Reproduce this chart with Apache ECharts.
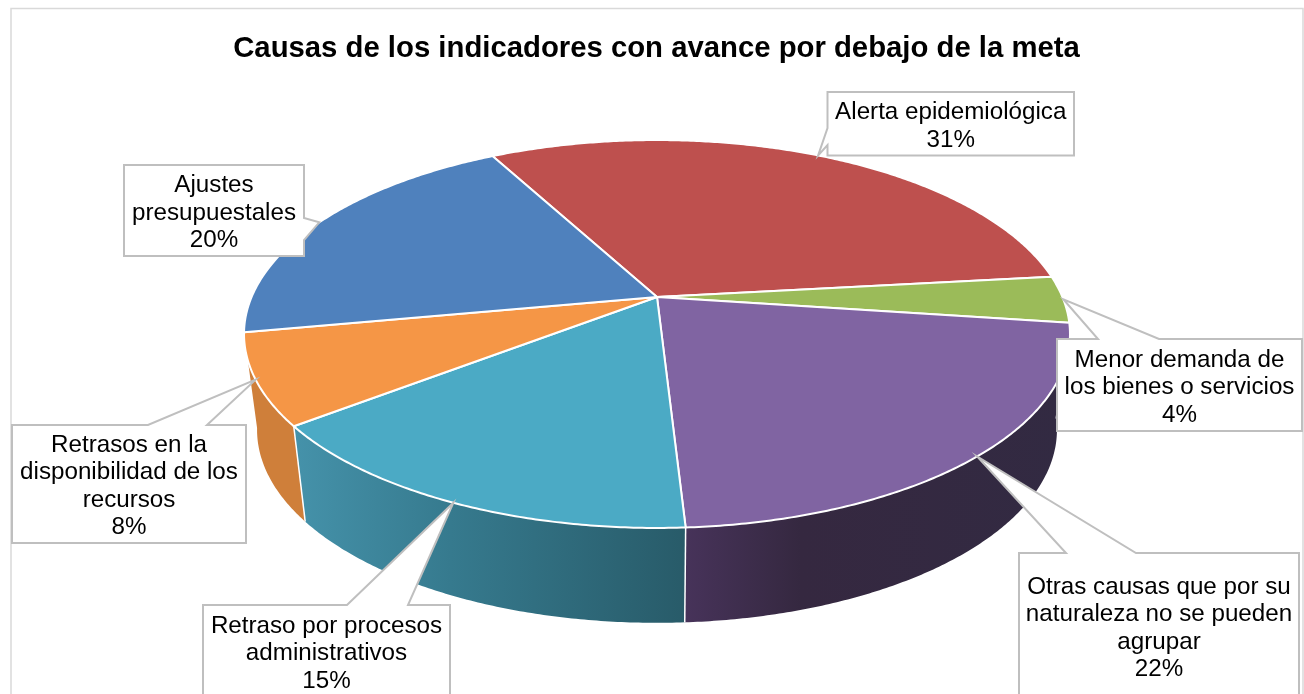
<!DOCTYPE html>
<html>
<head>
<meta charset="utf-8">
<title>Causas de los indicadores</title>
<script src="https://cdn.jsdelivr.net/npm/echarts@6/dist/echarts.min.js"></script>
<style>
  html, body { margin: 0; padding: 0; background: #fff; }
  #chart { width: 1304px; height: 694px; }
</style>
</head>
<body>
<div id="chart"></div>
<script>
const chartTitle = 'Causas de los indicadores con avance por debajo de la meta';
const categories = [
  'Alerta epidemiológica',
  'Menor demanda de\nlos bienes o servicios',
  'Otras causas que por su\nnaturaleza no se pueden\nagrupar',
  'Retraso por procesos\nadministrativos',
  'Retrasos en la\ndisponibilidad de los\nrecursos',
  'Ajustes\npresupuestales'
];
const values = [31.1, 3.9, 21.95, 15.45, 7.55, 20.05];
const colors = ['#be504e', '#9bbb59', '#8064a2', '#4baac5', '#f59646', '#4f81bd'];

// label boxes: x0, y0, x1, y1, side the tail leaves from, tail start, tail end
const boxes = [
  [827.5, 92, 1074, 155.5, 'left', 128, 145],
  [1057, 339, 1302, 431, 'top', 1098, 1159],
  [1019, 553, 1299, 699, 'top', 1066, 1136],
  [203, 605, 450, 697, 'top', 347, 408],
  [12, 425, 246, 543, 'top', 148, 207],
  [124, 165, 304, 256, 'right', 218, 240]
];

const startAngle = 331.7;
const tilt = 0.1907;
const topFace = { cx: 657, cy: 297, a: 405.4, b: 186.9 };
const bottomFace = { cx: 657, cy: 393, a: 392.6, b: 186 };

const total = values.reduce((s, v) => s + v, 0);

function sliceAngles(i) {
  let from = startAngle;
  for (let k = 0; k < i; k++) from += values[k] / total * 360;
  return [from, from + values[i] / total * 360];
}

// angle clockwise from the top of the disc -> point on the tilted disc
function project(face, deg) {
  const t = deg * Math.PI / 180;
  const u = Math.sin(t);
  const v = -Math.cos(t);
  const d = 1 - tilt * v;
  return [face.cx + face.a * u / d, face.cy + face.b * v / d];
}

function arc(face, from, to) {
  const pts = [];
  const n = Math.ceil((to - from) * 2);
  for (let i = 0; i <= n; i++) pts.push(project(face, from + (to - from) * i / n));
  return pts;
}

const sideFills = {
  2: new echarts.graphic.LinearGradient(0, 0, 1, 0, [
    { offset: 0, color: '#47335a' },
    { offset: 0.3, color: '#352840' },
    { offset: 1, color: '#322a42' }
  ]),
  3: new echarts.graphic.LinearGradient(0, 0, 1, 0, [
    { offset: 0, color: '#4592aa' },
    { offset: 0.4, color: '#367a8e' },
    { offset: 1, color: '#285b69' }
  ]),
  4: '#cf7f3a'
};

function renderSide(params, api) {
  const i = params.dataIndex;
  const [from, to] = sliceAngles(i);
  const mid = (from + to) / 2;
  // only the slices facing the viewer show their wall
  if (-Math.cos(mid * Math.PI / 180) < tilt) return null;
  const upper = arc(topFace, from, to);
  const lower = arc(bottomFace, from, to).reverse();
  const toPx = p => api.coord(p);
  return {
    type: 'group',
    children: [
      {
        type: 'polygon',
        shape: { points: upper.concat(lower).map(toPx) },
        style: { fill: sideFills[i] || colors[i] }
      },
      {
        type: 'polyline',
        shape: { points: [project(topFace, from), project(bottomFace, from)].map(toPx) },
        style: { stroke: '#fff', lineWidth: 1.5, fill: null }
      }
    ]
  };
}

function renderTop(params, api) {
  const i = params.dataIndex;
  const [from, to] = sliceAngles(i);
  const pts = [[topFace.cx, topFace.cy]].concat(arc(topFace, from, to));
  return {
    type: 'polygon',
    shape: { points: pts.map(p => api.coord(p)) },
    style: { fill: colors[i], stroke: '#fff', lineWidth: 2, lineJoin: 'round' }
  };
}

function renderLabel(params, api) {
  const i = params.dataIndex;
  const [x0, y0, x1, y1, side, t0, t1] = boxes[i];
  const [from, to] = sliceAngles(i);
  const tip = project(topFace, (from + to) / 2);
  let pts;
  if (side === 'top') {
    pts = [[x0, y0], [t0, y0], tip, [t1, y0], [x1, y0], [x1, y1], [x0, y1]];
  } else if (side === 'left') {
    pts = [[x0, y0], [x1, y0], [x1, y1], [x0, y1], [x0, t1], tip, [x0, t0]];
  } else {
    pts = [[x0, y0], [x1, y0], [x1, t0], tip, [x1, t1], [x1, y1], [x0, y1]];
  }
  const center = api.coord([(x0 + x1) / 2, (y0 + y1) / 2 + 2.5]);
  return {
    type: 'group',
    children: [
      {
        type: 'polygon',
        shape: { points: pts.map(p => api.coord(p)) },
        style: { fill: '#fff', stroke: '#bfbfbf', lineWidth: 2 }
      },
      {
        type: 'text',
        x: center[0],
        y: center[1],
        style: {
          text: categories[i] + '\n' + Math.round(values[i] / total * 100) + '%',
          fill: '#000',
          font: '24.2px "Liberation Sans", Arial, sans-serif',
          lineHeight: 27.5,
          align: 'center',
          verticalAlign: 'middle'
        }
      }
    ]
  };
}

const seriesData = values.map((v, i) => [i, v]);

const chart = echarts.init(document.getElementById('chart'));
chart.setOption({
  animation: false,
  backgroundColor: '#fff',
  title: {
    text: chartTitle,
    left: 651.5,
    top: 29,
    textAlign: 'center',
    textStyle: {
      fontFamily: '"Liberation Sans", Arial, sans-serif',
      fontSize: 29.3,
      fontWeight: 'bold',
      color: '#000'
    }
  },
  grid: { left: 0, right: 0, top: 0, bottom: 0 },
  xAxis: { type: 'value', min: 0, max: 1304, show: false },
  yAxis: { type: 'value', min: 0, max: 694, inverse: true, show: false },
  graphic: [{
    type: 'rect',
    shape: { x: 11, y: 8.5, width: 1292, height: 720 },
    style: { fill: null, stroke: '#d9d9d9', lineWidth: 1.5 },
    z: 0
  }],
  series: [
    { type: 'custom', renderItem: renderSide, data: seriesData, z: 2 },
    { type: 'custom', renderItem: renderTop, data: seriesData, z: 3 },
    { type: 'custom', renderItem: renderLabel, data: seriesData, z: 4 }
  ]
});
</script>
</body>
</html>
